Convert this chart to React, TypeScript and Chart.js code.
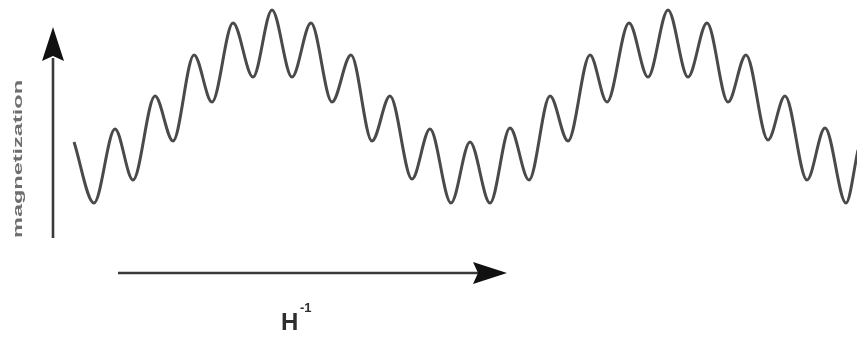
import React, { useEffect, useRef } from "react";
import { Chart, registerables } from "chart.js";

Chart.register(...registerables);

// Inverse field positions (H^-1, arbitrary units) of the curve's turning points
const fieldInverse = [
  74, 94, 115, 133, 155, 173, 194, 212, 233, 253, 272, 292, 311, 332, 351, 372, 390, 412, 430, 451,
  470, 490, 510, 529, 550, 568, 590, 607, 629, 648, 668, 688, 707, 728, 746, 768, 785, 807, 825, 846, 858,
];

// Magnetization (arbitrary units) at those points
const magnetization = [
  195, 134, 208, 157, 241, 196, 282, 235, 314, 260, 327, 260, 314, 235, 282, 196, 241, 158, 208, 134,
  195, 134, 209, 157, 241, 196, 282, 235, 314, 260, 327, 260, 314, 235, 282, 197, 241, 157, 209, 134, 187,
];

const yLabel = "magnetization";
const xLabelBase = "H";
const xLabelSup = "-1";

const W = 857;
const H = 337;

const annotations = {
  id: "schematicAxes",
  afterDraw(chart: any) {
    const ctx: CanvasRenderingContext2D = chart.ctx;
    ctx.save();

    // vertical arrow
    ctx.strokeStyle = "#3a3a3a";
    ctx.lineWidth = 2.6;
    ctx.beginPath();
    ctx.moveTo(53, 238);
    ctx.lineTo(53, 58);
    ctx.stroke();
    ctx.fillStyle = "#111";
    ctx.beginPath();
    ctx.moveTo(53, 27);
    ctx.lineTo(64, 61);
    ctx.lineTo(53, 56);
    ctx.lineTo(42, 61);
    ctx.closePath();
    ctx.fill();

    // horizontal arrow
    ctx.beginPath();
    ctx.moveTo(118, 273);
    ctx.lineTo(480, 273);
    ctx.stroke();
    ctx.beginPath();
    ctx.moveTo(507, 273);
    ctx.lineTo(473, 284);
    ctx.lineTo(478, 273);
    ctx.lineTo(473, 262);
    ctx.closePath();
    ctx.fill();

    // y label (rotated, stretched)
    ctx.save();
    ctx.font = 'bold 13px "Liberation Sans", Arial, sans-serif';
    const w = ctx.measureText(yLabel).width;
    ctx.translate(22, 159);
    ctx.rotate(-Math.PI / 2);
    ctx.scale(158 / w, 1);
    ctx.fillStyle = "#6e6e6e";
    ctx.textAlign = "center";
    ctx.textBaseline = "alphabetic";
    ctx.fillText(yLabel, 0, 0);
    ctx.restore();

    // x label
    ctx.fillStyle = "#2e2e2e";
    ctx.textAlign = "left";
    ctx.textBaseline = "alphabetic";
    ctx.font = 'bold 24px "Liberation Sans", Arial, sans-serif';
    ctx.fillText(xLabelBase, 281, 330);
    ctx.font = 'bold 13px "Liberation Sans", Arial, sans-serif';
    ctx.fillText(xLabelSup, 300, 312);

    ctx.restore();
  },
};

export default function App() {
  const ref = useRef<HTMLCanvasElement | null>(null);

  useEffect(() => {
    if (!ref.current) return;
    const points = fieldInverse.map((x, i) => ({ x, y: magnetization[i] }));
    const chart = new Chart(ref.current, {
      type: "line",
      data: {
        datasets: [
          {
            data: points,
            borderColor: "#4a4a4a",
            borderWidth: 3,
            pointRadius: 0,
            fill: false,
            cubicInterpolationMode: "monotone",
          },
        ],
      },
      options: {
        responsive: false,
        animation: false,
        layout: { padding: 0 },
        scales: {
          x: { type: "linear", min: 0, max: W, display: false },
          y: { type: "linear", min: 0, max: H, display: false },
        },
        plugins: {
          legend: { display: false },
          tooltip: { enabled: false },
          title: { display: false },
        },
        events: [],
      },
      plugins: [annotations],
    });
    return () => chart.destroy();
  }, []);

  return (
    <div style={{ position: "fixed", left: 0, top: 0, width: W, height: H, background: "#fff" }}>
      <canvas ref={ref} width={W} height={H} style={{ display: "block", width: W, height: H }} />
    </div>
  );
}
